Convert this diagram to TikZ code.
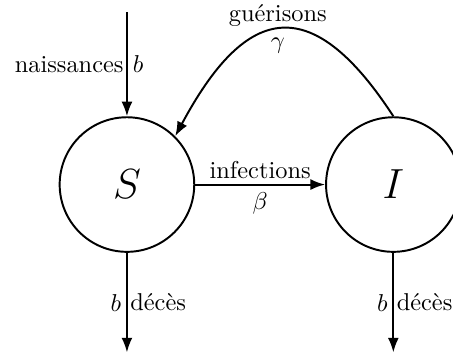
\documentclass[tikz,border=0pt]{standalone}
\usepackage{amsmath}
\usepackage{tikz}
\usetikzlibrary{arrows.meta, positioning}

\begin{document}
\begin{tikzpicture}[
  every node/.style={font=\normalsize},
  comp/.style={draw, circle, thick, minimum size=1.94cm, inner sep=0pt,
               font=\LARGE},
  arr/.style={-{Latex[length=6pt]}, thick}
]
  \useasboundingbox (-1.83,-2.44) rectangle (4.70,2.66);
  \node[comp] (S) at (0,0)    {$S$};
  \node[comp] (I) at (3.84,0) {$I$};
  \coordinate (in)   at (0,2.48);
  \coordinate (outS) at (0,-2.42);
  \coordinate (outI) at (3.84,-2.42);

  \draw[arr] (in) -- node[left, inner sep=1pt]{naissances} node[right, inner sep=2pt]{$b$} (S);
  \draw[arr] (S) -- node[above, inner sep=2pt]{infections} node[below, inner sep=3pt]{$\beta$} (I);
  \draw[arr] (I.north) .. controls +(-1.23,1.89) and +(0.98,1.83) .. node[above, inner sep=1pt]{guérisons} node[below, inner sep=3pt]{$\gamma$} (S.north east);
  \draw[arr] (S) -- node[left, inner sep=2pt]{$b$} node[right, inner sep=1pt]{décès} (outS);
  \draw[arr] (I) -- node[left, inner sep=2pt]{$b$} node[right, inner sep=1pt]{décès} (outI);
\end{tikzpicture}
\end{document}
